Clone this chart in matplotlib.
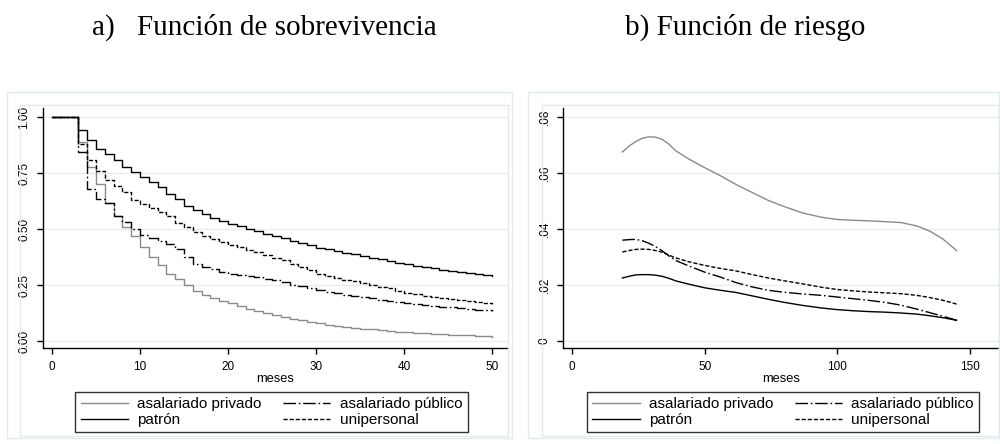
import matplotlib
matplotlib.use("Agg")
import matplotlib.pyplot as plt
from matplotlib.patches import Rectangle
from matplotlib.lines import Line2D

# --- data: survival (Kaplan-Meier, monthly steps) ---
meses = list(range(0, 51))
surv_privado = [1, 1, 1, .89, .775, .70, .615, .56, .51, .47, .42, .375, .34, .30, .275, .25,
                .225, .205, .19, .178, .168, .155, .145, .135, .125, .115, .107, .099, .092, .085,
                .079, .073, .068, .064, .06, .056, .052, .048, .045, .042, .039, .037, .035, .033,
                .031, .029, .027, .025, .023, .021, .02]
surv_patron = [1, 1, 1, .943, .896, .859, .836, .807, .777, .754, .732, .71, .688, .658, .635,
               .601, .583, .565, .549, .534, .524, .512, .501, .49, .479, .469, .458, .446, .4375,
               .427, .417, .409, .402, .394, .387, .379, .372, .365, .357, .35, .342, .336, .33,
               .324, .318, .314, .31, .305, .30, .295, .289]
surv_publico = [1, 1, 1, .844, .68, .635, .615, .56, .53, .50, .475, .46, .445, .435, .41, .375,
                .345, .33, .32, .31, .30, .295, .29, .285, .278, .273, .265, .25, .245, .235, .228,
                .22, .213, .207, .202, .196, .19, .185, .18, .175, .17, .165, .161, .157, .153,
                .15, .147, .143, .14, .137, .134]
surv_uniper = [1, 1, 1, .878, .81, .76, .72, .69, .665, .63, .61, .595, .575, .56, .525, .51,
               .485, .47, .455, .44, .428, .418, .408, .397, .385, .372, .36, .345, .33, .315,
               .298, .29, .282, .274, .266, .258, .25, .243, .235, .225, .215, .208, .203, .198,
               .193, .188, .183, .178, .173, .168, .164]

# --- data: smoothed hazard ---
t_haz = [19, 21.5, 24, 26.5, 29, 31.5, 34, 36.5, 39, 44, 50, 56, 62, 68, 74, 80, 87, 94, 100,
         106, 112, 118, 124, 130, 135, 140, 145]
haz_privado = [.0675, .0696, .0712, .0724, .0729, .0728, .0720, .0703, .0680, .0650, .0619,
               .0590, .0558, .0530, .0502, .0480, .0457, .0442, .0434, .0431, .0429, .0426,
               .0423, .0411, .0392, .0363, .0323]
haz_publico = [.0360, .0362, .0363, .0358, .0349, .0337, .0322, .0304, .0288, .0268, .0246,
               .0228, .0208, .0193, .0181, .0174, .0168, .0163, .0157, .0151, .0145, .0138,
               .0128, .0114, .0101, .0088, .0074]
haz_uniper = [.0318, .0323, .0327, .0328, .0327, .0323, .0317, .0307, .0297, .0283, .0270,
              .0259, .0250, .0237, .0225, .0215, .0204, .0192, .0184, .0179, .0175, .0172,
              .0169, .0163, .0155, .0145, .0132]
haz_patron = [.0225, .0231, .0236, .0237, .0237, .0235, .0231, .0224, .0215, .0203, .0190,
              .0181, .0173, .0161, .0149, .0138, .0127, .0118, .0112, .0108, .0105, .0103,
              .0100, .0096, .0090, .0083, .0074]

labels = ["asalariado privado", "patrón", "asalariado público", "unipersonal"]

W, H = 1000, 444
GRAY = "#8a8a8a"
FRAME = "#e2eaec"
GRID = "#e6eef0"
DASHDOT = (0, (9, 2, 1.2, 2))
DASHED = (0, (3, 1.4))
LW = 1.0

plt.rcParams["font.family"] = ["Liberation Sans", "DejaVu Sans"]

fig = plt.figure(figsize=(W / 100, H / 100), dpi=100)


def px_axes(x0, x1, ytop, ybot):
    return fig.add_axes([x0 / W, 1 - ybot / H, (x1 - x0) / W, (ybot - ytop) / H])


def frame(x0, x1, ytop, ybot):
    fig.patches.append(Rectangle((x0 / W, 1 - ybot / H), (x1 - x0) / W, (ybot - ytop) / H,
                                 transform=fig.transFigure, fill=False, edgecolor=FRAME, lw=1))


def style(ax, yticks, yticklabels):
    for s in ["top", "right"]:
        ax.spines[s].set_visible(False)
    for s in ["left", "bottom"]:
        ax.spines[s].set_linewidth(1.0)
    ax.set_yticks(yticks)
    ax.set_yticklabels(yticklabels, rotation=90, va="center")
    ax.tick_params(axis="both", length=4, width=1, labelsize=8.5, pad=5)
    for y in yticks:
        ax.axhline(y, color=GRID, lw=1, zorder=0)
    ax.set_xlabel("meses", fontsize=9.3, labelpad=0)


def legend(cx, cy):
    # column-major order: privado / patrón | público / unipersonal
    handles = [Line2D([], [], color=GRAY, lw=LW),
               Line2D([], [], color="black", lw=LW),
               Line2D([], [], color="black", lw=LW, linestyle=DASHDOT),
               Line2D([], [], color="black", lw=LW, linestyle=DASHED)]
    leg = fig.legend(handles, labels, ncol=2, loc="center", bbox_to_anchor=(cx / W, 1 - cy / H),
                     fontsize=11, frameon=True, fancybox=False, edgecolor="black",
                     handlelength=3.1, handletextpad=0.6, columnspacing=1.4,
                     labelspacing=0.15, borderpad=0.35)
    leg.get_frame().set_linewidth(1.0)


# frames
frame(7, 512, 92, 438)
frame(20, 508, 105, 436)
frame(528, 999, 92, 438)
frame(542, 999, 105, 436)

# --- a) survival ---
ax1 = px_axes(43, 508, 108, 348)
ax1.step(meses, surv_privado, where="post", color=GRAY, lw=LW)
ax1.step(meses, surv_publico, where="post", color="black", lw=LW, linestyle=DASHDOT)
ax1.step(meses, surv_patron, where="post", color="black", lw=LW)
ax1.step(meses, surv_uniper, where="post", color="black", lw=LW, linestyle=DASHED)
ax1.set_xlim(-1.02, 51.8)
ax1.set_ylim(-0.031, 1.040)
ax1.set_xticks([0, 10, 20, 30, 40, 50])
style(ax1, [0, .25, .5, .75, 1.0], ["0.00", "0.25", "0.50", "0.75", "1.00"])
legend(271.5, 412)

# --- b) hazard ---
ax2 = px_axes(563, 999, 108, 348)
ax2.plot(t_haz, haz_privado, color=GRAY, lw=LW)
ax2.plot(t_haz, haz_publico, color="black", lw=LW, linestyle=DASHDOT)
ax2.plot(t_haz, haz_patron, color="black", lw=LW)
ax2.plot(t_haz, haz_uniper, color="black", lw=LW, linestyle=DASHED)
ax2.set_xlim(-3.4, 161)
ax2.set_ylim(-0.0025, 0.0832)
ax2.set_xticks([0, 50, 100, 150])
style(ax2, [0, .02, .04, .06, .08], ["0", ".02", ".04", ".06", ".08"])
legend(783, 412)

# titles
tfont = dict(family=["Liberation Serif", "DejaVu Serif"], fontsize=21, va="baseline")
fig.text(92 / W, 1 - 35 / H, "a)", **tfont)
fig.text(137 / W, 1 - 35 / H, "Función de sobrevivencia", **tfont)
fig.text(625 / W, 1 - 35 / H, "b) Función de riesgo", **tfont)

fig.savefig("out.png", dpi=100)
